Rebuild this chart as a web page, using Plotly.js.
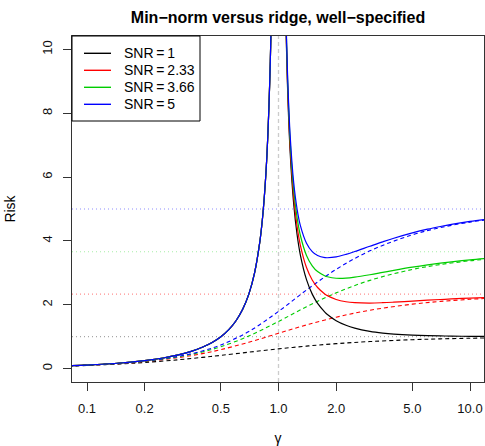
<!DOCTYPE html>
<html>
<head>
<meta charset="utf-8">
<script src="https://cdn.plot.ly/plotly-3.0.1.min.js"></script>
<style>html,body{margin:0;padding:0;background:#fff;}#chart{width:485px;height:446px;}</style>
</head>
<body>
<div id="chart"></div>
<script>
// SNR levels and legend labels
const snr = [1, 2.33, 3.66, 5];
const snrLabels = ['SNR = 1', 'SNR = 2.33', 'SNR = 3.66', 'SNR = 5'];
const colors = ['#000000', '#FF0000', '#00CD00', '#0000FF'];
const refColors = ['rgba(0,0,0,0.35)', 'rgba(255,0,0,0.45)', 'rgba(0,205,0,0.35)', 'rgba(0,0,255,0.45)'];

// Min-norm risk, gamma < 1 (same for every SNR)
const gammaLeft = [0.08,0.1,0.15,0.2,0.25,0.3,0.35,0.4,0.45,0.5,0.55,0.6,0.65,0.7,0.75,0.8,0.83,0.86,0.88,0.9,0.91,0.92,0.93];
const riskLeft = [0.087,0.111,0.176,0.25,0.333,0.429,0.538,0.667,0.818,1.0,1.222,1.5,1.857,2.333,3.0,4.0,4.882,6.143,7.333,9.0,10.111,11.5,13.286];

// Min-norm risk, gamma > 1
const gammaRight = [1.05,1.07,1.08,1.1,1.12,1.15,1.2,1.25,1.3,1.4,1.5,1.6,1.75,1.8,2,2.25,2.5,3,3.5,4,5,6,7,8,10,12];
const riskRightSnr1 = [20.048,14.351,12.574,10.091,8.440,6.797,5.167,4.2,3.564,2.786,2.333,2.042,1.762,1.694,1.5,1.356,1.267,1.167,1.114,1.083,1.05,1.033,1.024,1.018,1.011,1.008];
const riskRightSnr233 = [20.111,14.438,12.673,10.212,8.583,6.971,5.388,4.466,3.871,3.166,2.777,2.540,2.332,2.286,2.165,2.094,2.065,2.053,2.064,2.081,2.114,2.142,2.164,2.182,2.208,2.227];
const riskRightSnr366 = [20.174,14.525,12.771,10.333,8.725,7.144,5.61,4.732,4.178,3.546,3.22,3.039,2.902,2.877,2.83,2.833,2.863,2.94,3.014,3.078,3.178,3.25,3.304,3.345,3.405,3.446];
const riskRightSnr5 = [20.238,14.613,12.870,10.455,8.869,7.319,5.833,5.0,4.487,3.929,3.667,3.542,3.476,3.472,3.5,3.578,3.667,3.833,3.971,4.083,4.25,4.367,4.452,4.518,4.611,4.674];

// Optimally tuned ridge risk (dashed)
const gammaRidge = [0.08,0.1,0.15,0.2,0.3,0.4,0.5,0.7,1,1.4,2,3,5,7,10,12];
const ridgeSnr1 = [0.0795,0.0990,0.1468,0.1926,0.2770,0.3508,0.4142,0.5146,0.6180,0.7047,0.7808,0.8471,0.9050,0.9311,0.9512,0.9592];
const ridgeSnr233 = [0.0836,0.1055,0.1622,0.2210,0.3436,0.4694,0.5938,0.8252,1.1062,1.3684,1.6112,1.8280,2.0184,2.1044,2.1705,2.1966];
const ridgeSnr366 = [0.0848,0.1075,0.1671,0.2306,0.3693,0.5220,0.6848,1.0199,1.4774,1.9361,2.3726,2.7641,3.1063,3.2599,3.3776,3.4239];
const ridgeSnr5 = [0.0853,0.1085,0.1695,0.2355,0.3832,0.5523,0.7417,1.1616,1.7913,2.4606,3.1085,3.6888,4.1926,4.4176,4.5895,4.6570];

const interpolationThreshold = 1;
const xTickVals = [0.1, 0.2, 0.5, 1, 2, 5, 10];
const xTickText = ['0.1', '0.2', '0.5', '1.0', '2.0', '5.0', '10.0'];
const yTickVals = [0, 2, 4, 6, 8, 10];

const riskRight = [riskRightSnr1, riskRightSnr233, riskRightSnr366, riskRightSnr5];
const ridge = [ridgeSnr1, ridgeSnr233, ridgeSnr366, ridgeSnr5];

const traces = [];
for (let i = 0; i < snr.length; i++) {
  traces.push({
    x: gammaRidge, y: ridge[i], type: 'scatter', mode: 'lines',
    line: {color: colors[i], width: 1.1, dash: '4px,3px', shape: 'spline'},
    name: snrLabels[i] + ' (ridge)', showlegend: false, hoverinfo: 'skip'
  });
}
for (let i = 0; i < snr.length; i++) {
  traces.push({
    x: gammaLeft.concat([interpolationThreshold], gammaRight),
    y: riskLeft.concat([null], riskRight[i]),
    type: 'scatter', mode: 'lines', connectgaps: false,
    line: {color: colors[i], width: 1.2, shape: 'spline'},
    name: snrLabels[i], showlegend: false
  });
}

// plot-area geometry in pixels (for legend placement)
const W = 485, H = 446, mL = 72, mR = 1, mT = 36, mB = 64;
const pw = W - mL - mR, ph = H - mT - mB;
const px = v => (v - mL) / pw;
const py = v => 1 - (v - mT) / ph;

const shapes = [];
for (let i = 0; i < snr.length; i++) {
  shapes.push({type: 'line', xref: 'paper', yref: 'y', x0: 0, x1: 1, y0: snr[i], y1: snr[i],
    line: {color: refColors[i], width: 1.2, dash: '1px,3px'}, layer: 'below'});
}
shapes.push({type: 'line', xref: 'x', yref: 'paper', x0: interpolationThreshold, x1: interpolationThreshold, y0: 0, y1: 1,
  line: {color: 'rgba(170,170,170,0.6)', width: 1.3, dash: '4px,3px'}, layer: 'below'});

// custom legend (R style)
const font = 'Liberation Sans, Arial, Helvetica, sans-serif';
const annotations = [];
shapes.push({type: 'rect', xref: 'paper', yref: 'paper', x0: px(72), x1: px(200), y0: py(121), y1: 1,
  line: {color: '#000', width: 1}, fillcolor: '#fff', layer: 'above'});
for (let i = 0; i < snr.length; i++) {
  const ry = py(53.3 + 17 * i);
  shapes.push({type: 'line', xref: 'paper', yref: 'paper', x0: px(84), x1: px(111), y0: ry, y1: ry,
    line: {color: colors[i], width: 1.4}, layer: 'above'});
  annotations.push({xref: 'paper', yref: 'paper', x: px(122), y: ry, xanchor: 'left', yanchor: 'middle',
    text: snrLabels[i].replace(' = ', '\u2009=\u2009'), showarrow: false, font: {family: font, size: 14, color: '#000'}});
}

const layout = {
  width: W, height: H,
  margin: {l: mL, r: mR, t: mT, b: mB, pad: 0},
  paper_bgcolor: '#fff', plot_bgcolor: '#fff',
  font: {family: font, size: 13, color: '#000'},
  title: {text: 'Min\u2212norm versus ridge, well\u2212specified', font: {family: font, size: 16, weight: 'bold', color: '#000'},
    x: 0.5, xref: 'paper', xanchor: 'center', y: 1 - 17/446, yref: 'container', yanchor: 'middle'},
  xaxis: {
    type: 'log', range: [Math.log10(0.0835), Math.log10(11.83)],
    tickvals: xTickVals, ticktext: xTickText,
    ticks: 'outside', ticklen: 8, tickwidth: 1, tickcolor: '#333', ticklabelstandoff: 6,
    showgrid: false, zeroline: false, showline: true, linecolor: '#333', linewidth: 1, mirror: true,
    tickfont: {family: font, size: 13, color: '#111'},
    title: {text: '\u03b3', font: {family: font, size: 14, color: '#000'}, standoff: 23},
    automargin: false
  },
  yaxis: {
    range: [-0.42, 10.42],
    tickvals: yTickVals, ticktext: yTickVals.map(String), tickangle: -90,
    ticks: 'outside', ticklen: 8, tickwidth: 1, tickcolor: '#333', ticklabelstandoff: 6,
    showgrid: false, zeroline: false, showline: true, linecolor: '#333', linewidth: 1, mirror: true,
    tickfont: {family: font, size: 13, color: '#111'},
    title: {text: 'Risk', font: {family: font, size: 14, color: '#000'}, standoff: 20},
    automargin: false
  },
  shapes: shapes,
  annotations: annotations,
  showlegend: false
};

Plotly.newPlot('chart', traces, layout, {staticPlot: true, displayModeBar: false});
</script>
</body>
</html>
